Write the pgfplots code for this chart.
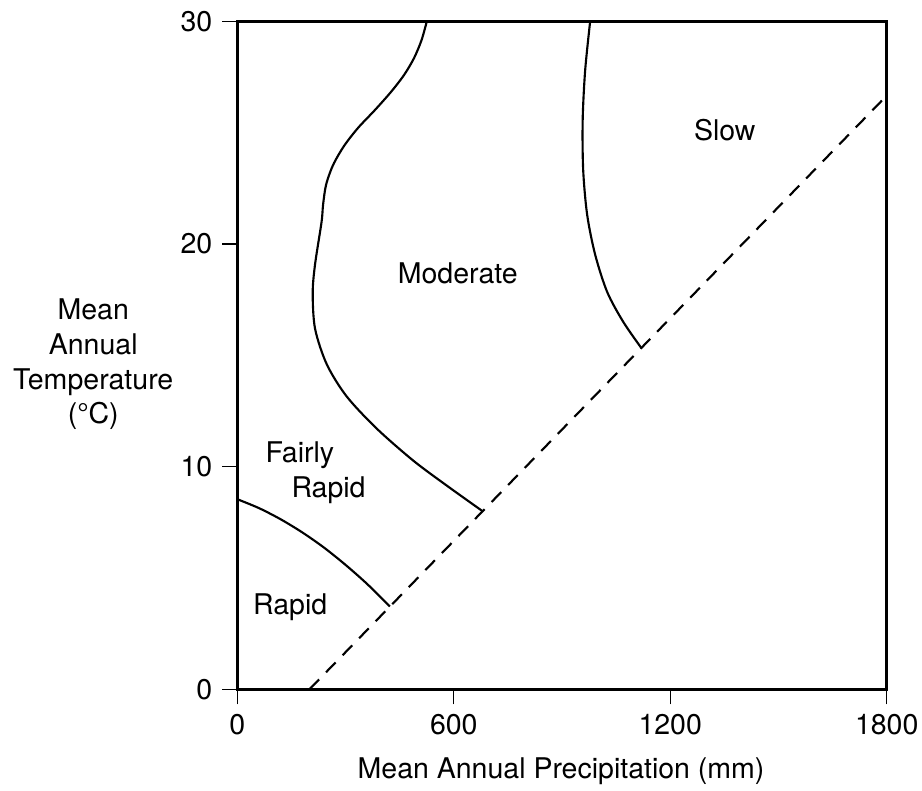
\documentclass[border=0pt]{standalone}
\usepackage{fontspec}
\setmainfont{TeX Gyre Heros}
\usepackage{pgfplots}
\pgfplotsset{compat=1.18}

\begin{document}
\fontsize{11.4}{13.9}\selectfont
\begin{tikzpicture}
\useasboundingbox (0,0) rectangle (368.8pt,316pt);
\begin{axis}[
  at={(94.92pt,40.28pt)}, anchor=south west,
  scale only axis, width=259.76pt, height=267.12pt,
  xmin=0, xmax=1800, ymin=0, ymax=30,
  xtick={0,600,1200,1800}, ytick={0,10,20,30},
  xtick pos=bottom, ytick pos=left,
  tick align=outside, major tick length=6pt,
  every tick/.style={black, line width=0.5pt},
  axis line style={black, line width=1pt},
  /pgf/number format/assume math mode=true,
  /pgf/number format/1000 sep={},
  clip=false,
]
% boundaries between decomposition zones
\addplot[black, line width=0.85pt, smooth] coordinates {
  (525.2,30) (510.8,29.17) (490,28.36) (462.3,27.6) (426.2,26.84)
  (381.9,26.03) (334.7,25.22) (295.9,24.41) (265.4,23.55) (246,22.66)
  (237.7,21.76) (233.5,20.99) (215.5,19.09) (209,17.81) (215.5,16.2)
  (248,14.6) (303,13.16) (386.6,11.71) (488,10.27) (580.7,9.15) (680,8.0)
};
\addplot[black, line width=0.85pt, smooth] coordinates {
  (978,30) (964.2,27.81) (957.3,25.57) (958.7,23.33) (969.8,21.31)
  (992,19.52) (1025.2,17.85) (1069.6,16.51) (1120,15.33)
};
\addplot[black, line width=0.85pt, smooth] coordinates {
  (0,8.54) (60,8.14) (120,7.64) (180,7.05) (240,6.37) (300,5.59)
  (360,4.73) (423,3.72)
};
% aridity limit
\addplot[black, line width=0.85pt, dash pattern=on 5.5pt off 4pt] coordinates {
  (200,0) (1800,26.67)
};

\begin{scope}[every node/.style={inner sep=0pt, anchor=base west}]
\node at (axis cs:1264.6,24.65) {Slow};
\node at (axis cs:443.7,18.21) {Moderate};
\node at (axis cs:76.8,10.18) {Fairly};
\node at (axis cs:148.9,8.61) {Rapid};
\node at (axis cs:42.7,3.34) {Rapid};
\end{scope}

\node[anchor=base] at (axis cs:897.4,-4.0) {Mean Annual Precipitation (mm)};
\node[anchor=base] at (axis cs:-399.3,16.62) {Mean};
\node[anchor=base] at (axis cs:-399.3,15.06) {Annual};
\node[anchor=base] at (axis cs:-399.3,13.49) {Temperature};
\node[anchor=base] at (axis cs:-399.3,11.95) {(\textdegree C)};
\end{axis}
\end{tikzpicture}
\end{document}
